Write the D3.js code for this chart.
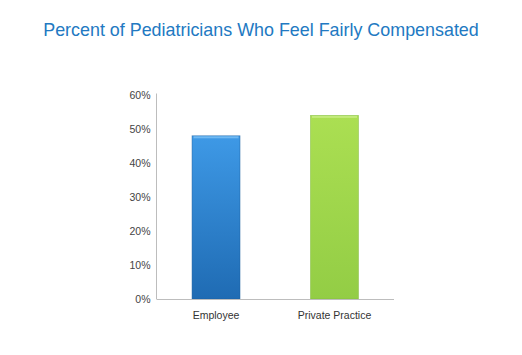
<!DOCTYPE html>
<html><head><meta charset="utf-8">
<script src="https://cdn.jsdelivr.net/npm/d3@7"></script>
<style>html,body{margin:0;padding:0;background:#fff;}svg{display:block;}</style>
</head><body>
<script>
const categories = ["Employee", "Private Practice"];
const values = [0.48, 0.54];
const yTicks = [0, 0.1, 0.2, 0.3, 0.4, 0.5, 0.6];
const titleText = "Percent of Pediatricians Who Feel Fairly Compensated";

const W = 522, H = 355;
const svg = d3.select("body").append("svg").attr("width", W).attr("height", H);
const defs = svg.append("defs");
const grads = [["gBlue", "#3e99e6", "#1f6bb3"], ["gGreen", "#abdf52", "#93cd45"]];
grads.forEach(([id, c1, c2]) => {
  const g = defs.append("linearGradient").attr("id", id).attr("x1", 0).attr("y1", 0).attr("x2", 0).attr("y2", 1);
  g.append("stop").attr("offset", "0%").attr("stop-color", c1);
  g.append("stop").attr("offset", "100%").attr("stop-color", c2);
});
const edge = [["#1d5f9e", "#7cc0f5"], ["#7fb83a", "#c9ee86"]];

svg.append("text").attr("x", 261).attr("y", 35.7).attr("text-anchor", "middle")
  .attr("font-family", "Liberation Sans, Arial, sans-serif").attr("font-size", 17.9)
  .attr("fill", "#2279c2").text(titleText);

const x = d3.scaleBand().domain(categories).range([156.5, 394]).paddingInner(0.595).paddingOuter(0.3);
const y = d3.scaleLinear().domain([0, 0.6]).range([299, 95]);

// bars
const bars = svg.append("g").selectAll("g").data(categories).join("g");
bars.append("rect")
  .attr("x", d => x(d)).attr("y", (d, i) => y(values[i]))
  .attr("width", x.bandwidth()).attr("height", (d, i) => y(0) - y(values[i]))
  .attr("fill", (d, i) => `url(#${grads[i][0]})`)
  .attr("stroke", (d, i) => edge[i][0]).attr("stroke-width", 0.8).attr("stroke-opacity", 0.6);
bars.append("rect")
  .attr("x", d => x(d) + 1.5).attr("y", (d, i) => y(values[i]) + 0.5)
  .attr("width", x.bandwidth() - 3).attr("height", 2)
  .attr("fill", (d, i) => edge[i][1]).attr("opacity", 0.8);

// axes
const yAxis = d3.axisLeft(y).tickValues(yTicks).tickFormat(d3.format(".0%")).tickSize(0).tickPadding(6);
const gy = svg.append("g").attr("transform", "translate(156.5,0)").call(yAxis);
gy.select(".domain").attr("stroke", "#bdbdbd").attr("d", `M0,${y(0.6)-1.5}V${y(0)}`);
gy.selectAll("text").attr("font-family", "Liberation Sans, Arial, sans-serif").attr("font-size", 10.5).attr("fill", "#444");

const xAxis = d3.axisBottom(x).tickSize(0).tickPadding(13);
const gx = svg.append("g").attr("transform", `translate(0,${y(0)})`).call(xAxis);
gx.select(".domain").attr("stroke", "#bdbdbd").attr("d", "M156.5,0.5H394");
gx.selectAll("text").attr("font-family", "Liberation Sans, Arial, sans-serif").attr("font-size", 10.5).attr("fill", "#333");
</script>
</body></html>
